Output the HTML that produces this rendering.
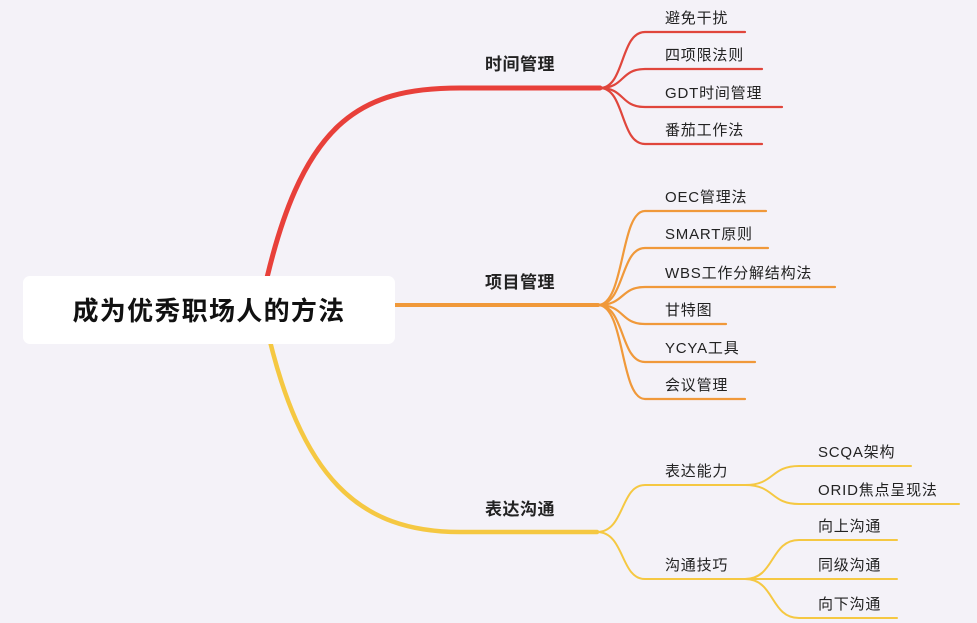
<!DOCTYPE html>
<html><head><meta charset="utf-8"><style>
html,body{margin:0;padding:0;background:#f4f2f8;}
svg{display:block}
text{font-family:"Liberation Sans","Noto Sans CJK SC",sans-serif;fill:#222;}
.b{font-size:17px;font-weight:bold;letter-spacing:0.5px;}
.l{font-size:15px;letter-spacing:0.8px;}
</style></head><body>
<svg width="977" height="623" viewBox="0 0 977 623" xmlns="http://www.w3.org/2000/svg">
<g fill="none" stroke-linecap="round">
<path d="M262 300 C300 120 360 88 460 88 L600 88" stroke="#e8403a" stroke-width="5"/>
<path d="M395 305 L598 305" stroke="#f0993a" stroke-width="4"/>
<path d="M265 320 C300 480 360 532 460 532 L597 532" stroke="#f5c842" stroke-width="4.5"/>
<g stroke="#e0463c" stroke-width="2.2">
<path d="M600 88 C625 88 620 32 645 32 L745 32"/>
<path d="M600 88 C625 88 620 69 645 69 L762 69"/>
<path d="M600 88 C625 88 620 107 645 107 L782 107"/>
<path d="M600 88 C625 88 620 144 645 144 L762 144"/>
</g>
<g stroke="#f0993a" stroke-width="2.2">
<path d="M598 305 C625 305 620 211 645 211 L766 211"/>
<path d="M598 305 C625 305 620 248 645 248 L768 248"/>
<path d="M598 305 C625 305 620 287 645 287 L835 287"/>
<path d="M598 305 C625 305 620 324 645 324 L726 324"/>
<path d="M598 305 C625 305 620 362 645 362 L755 362"/>
<path d="M598 305 C625 305 620 399 645 399 L745 399"/>
</g>
<g stroke="#f5c842" stroke-width="2">
<path d="M597 532 C625 532 620 485 645 485 L745 485"/>
<path d="M597 532 C625 532 620 579 645 579 L745 579"/>
<path d="M745 485 C775 485 770 466 799 466 L911 466"/>
<path d="M745 485 C775 485 770 504 799 504 L959 504"/>
<path d="M745 579 C775 579 770 540 799 540 L897 540"/>
<path d="M745 579 C775 579 770 579 799 579 L897 579"/>
<path d="M745 579 C775 579 770 618 799 618 L897 618"/>
</g>
</g>
<rect x="23" y="276" width="372" height="68" rx="7" fill="#fff"/>
<text x="209" y="320" text-anchor="middle" style="font-size:26px;font-weight:bold;fill:#111;letter-spacing:1.3px">成为优秀职场人的方法</text>
<text class="b" x="485" y="70">时间管理</text>
<text class="b" x="485" y="288">项目管理</text>
<text class="b" x="485" y="515">表达沟通</text>
<text class="l" x="665" y="23">避免干扰</text>
<text class="l" x="665" y="60">四项限法则</text>
<text class="l" x="665" y="98">GDT时间管理</text>
<text class="l" x="665" y="135">番茄工作法</text>
<text class="l" x="665" y="202">OEC管理法</text>
<text class="l" x="665" y="239">SMART原则</text>
<text class="l" x="665" y="278">WBS工作分解结构法</text>
<text class="l" x="665" y="315">甘特图</text>
<text class="l" x="665" y="353">YCYA工具</text>
<text class="l" x="665" y="390">会议管理</text>
<text class="l" x="665" y="476">表达能力</text>
<text class="l" x="665" y="570">沟通技巧</text>
<text class="l" x="818" y="457">SCQA架构</text>
<text class="l" x="818" y="495">ORID焦点呈现法</text>
<text class="l" x="818" y="531">向上沟通</text>
<text class="l" x="818" y="570">同级沟通</text>
<text class="l" x="818" y="609">向下沟通</text>
</svg>
</body></html>
